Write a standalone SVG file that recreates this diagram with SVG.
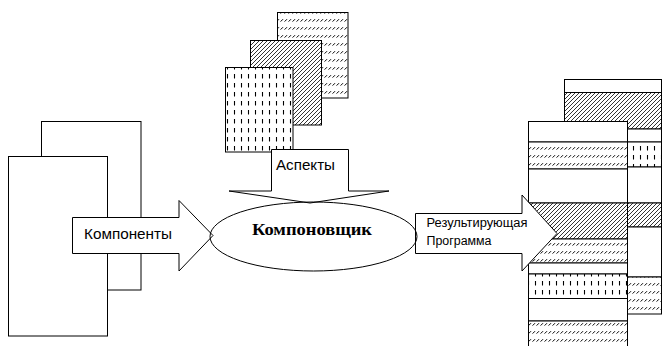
<svg xmlns="http://www.w3.org/2000/svg" width="663" height="346" viewBox="0 0 663 346">
<style>
.s{fill:#fff;stroke:#000;stroke-width:1}
.t{font-family:"Liberation Sans",Arial,sans-serif;fill:#000}
.b{font-family:"Liberation Serif","Times New Roman",serif;font-weight:bold;fill:#000}
</style>
<defs>
<pattern id="dh" patternUnits="userSpaceOnUse" width="4" height="8">
<rect width="4" height="8" fill="#fff"/>
<path d="M0.6,5.6 L3,3.2" stroke="#000" stroke-width="1"/>
</pattern>
<pattern id="dg" patternUnits="userSpaceOnUse" width="4" height="4">
<rect width="4" height="4" fill="#fff"/>
<path d="M-1,1 L1,-1 M0,4 L4,0 M3,5 L5,3" stroke="#000" stroke-width="0.8"/>
</pattern>
<pattern id="vd" patternUnits="userSpaceOnUse" width="7" height="9">
<rect width="7" height="9" fill="#fff"/>
<path d="M3.5,2 V6.5" stroke="#000" stroke-width="1.1"/>
</pattern>
</defs>
<rect width="663" height="346" fill="#fff"/>

<g id="components-docs">
<rect class="s" x="41.5" y="121.5" width="99.5" height="168.5"/>
<rect class="s" x="8.5" y="156.5" width="99" height="179.5"/>
</g>

<g id="aspect-docs">
<rect x="277.5" y="12.5" width="70.5" height="85.5" fill="url(#dh)" stroke="#000"/>
<rect x="250.5" y="40.5" width="71" height="84.5" fill="url(#dg)" stroke="#000"/>
<rect x="225.5" y="67.5" width="67.5" height="84.5" fill="url(#vd)" stroke="#000"/>
</g>

<g id="result-program">
<rect class="s" x="564.5" y="79.5" width="97" height="13"/>
<rect x="564.5" y="92.5" width="97" height="36.5" fill="url(#dg)" stroke="#000"/>
<rect class="s" x="564.5" y="129" width="97" height="13"/>
<rect x="564.5" y="142" width="97" height="25" fill="url(#vd)" stroke="#000"/>
<rect class="s" x="564.5" y="167" width="97" height="36"/>
<rect x="564.5" y="203" width="97" height="24" fill="url(#dg)" stroke="#000"/>
<rect class="s" x="564.5" y="227" width="97" height="50"/>
<rect x="564.5" y="277" width="97" height="37" fill="url(#dh)" stroke="#000"/>

<rect class="s" x="528.5" y="121.5" width="99" height="20.5"/>
<rect x="528.5" y="142" width="99" height="27" fill="url(#dh)" stroke="#000"/>
<rect class="s" x="528.5" y="169" width="99" height="34"/>
<rect x="528.5" y="203" width="99" height="36" fill="url(#dg)" stroke="#000"/>
<rect x="528.5" y="239" width="99" height="24" fill="url(#dh)" stroke="#000"/>
<rect class="s" x="528.5" y="263" width="99" height="11"/>
<rect x="528.5" y="274" width="99" height="24.5" fill="url(#vd)" stroke="#000"/>
<rect class="s" x="528.5" y="298.5" width="99" height="22.5"/>
<rect x="528.5" y="321" width="99" height="30" fill="url(#dh)" stroke="#000"/>
</g>

<g id="connectors">
<path id="arrow-components" class="s" d="M72.5,217.5 H179 V200.5 L213,235.5 L179,271 V253.5 H72.5 Z"/>
<path id="arrow-aspects" class="s" d="M271.5,149.5 H348.5 V191 H389 L310,203 L229,191 H271.5 Z"/>
<path id="arrow-result" class="s" d="M415.5,213.5 H522 V195 L557,233.5 L522,271 V253.5 H415.5 Z"/>
</g>

<g id="composer">
<ellipse cx="313.5" cy="236.5" rx="103.5" ry="34.5" fill="none" stroke="#000"/>
<text class="b" x="312" y="234.5" font-size="17" text-anchor="middle" textLength="120" lengthAdjust="spacingAndGlyphs">Компоновщик</text>
</g>

<g id="labels">
<text class="t" x="84" y="238.5" font-size="15" textLength="88" lengthAdjust="spacingAndGlyphs">Компоненты</text>
<text class="t" x="276" y="170" font-size="15" textLength="59" lengthAdjust="spacingAndGlyphs">Аспекты</text>
<text class="t" x="426.5" y="226.5" font-size="12" textLength="101" lengthAdjust="spacingAndGlyphs">Результирующая</text>
<text class="t" x="426.5" y="244.5" font-size="12" textLength="65" lengthAdjust="spacingAndGlyphs">Программа</text>
</g>
</svg>
